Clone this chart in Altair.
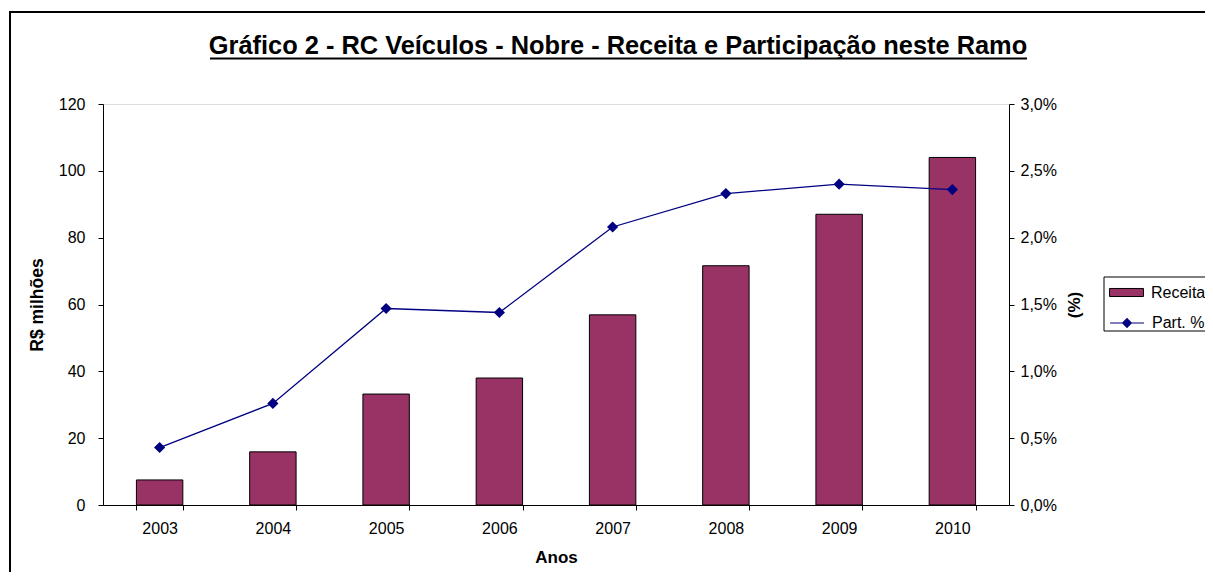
import altair as alt
import pandas as pd

anos = ["2003", "2004", "2005", "2006", "2007", "2008", "2009", "2010"]
receita = [7.5, 15.9, 33.2, 38.0, 56.9, 71.6, 87.0, 104.0]
participacao = [0.0043, 0.0076, 0.0147, 0.0144, 0.0208, 0.0233, 0.0240, 0.0236]
titulo = "Gráfico 2 - RC Veículos - Nobre - Receita e Participação neste Ramo"

FONT = "Liberation Sans"
BAR_COLOR = "#993366"
LINE_COLOR = "#000080"
LF = 16   # tick/legend label font size
TF = 17   # axis title font size

bar_df = pd.DataFrame({"ano": anos, "valor": receita, "serie": "Receita"})
line_df = pd.DataFrame({"ano": anos, "valor": participacao, "serie": "Part. %"})

x_enc = alt.X(
    "ano:N",
    sort=anos,
    scale=alt.Scale(paddingInner=0.59, paddingOuter=0.295),
    axis=alt.Axis(
        title="Anos", labelAngle=0, tickBand="extent", tickSize=5,
        labelPadding=10, titlePadding=13, domainColor="black", tickColor="black",
        labelFont=FONT, labelFontSize=LF, labelColor="black",
        titleFont=FONT, titleFontSize=TF, titleFontWeight="bold", titleColor="black",
    ),
)

leg_common = dict(
    title=None, orient="none", legendX=1001, padding=4,
    symbolSize=676, labelOffset=16,
    labelFont=FONT, labelFontSize=LF, labelColor="black",
)

legend_bar = alt.Legend(
    legendY=171,
    symbolType="M-0.92,-0.31H1.69V0.31H-0.92Z",
    symbolFillColor=BAR_COLOR, symbolStrokeColor="black", symbolStrokeWidth=1,
    symbolOpacity=1,
    **leg_common,
)
legend_line = alt.Legend(
    legendY=201,
    symbolType="M-0.92,0H1.69M0.055,0L0.385,-0.33L0.715,0L0.385,0.33Z",
    symbolFillColor=LINE_COLOR, symbolStrokeColor=LINE_COLOR, symbolStrokeWidth=1.2,
    symbolOpacity=1,
    **leg_common,
)

bars = alt.Chart(bar_df).mark_bar(stroke="black", strokeWidth=1, opacity=1).encode(
    x=x_enc,
    y=alt.Y(
        "valor:Q",
        scale=alt.Scale(domain=[0, 120], nice=False),
        axis=alt.Axis(
            title="R$ milhões", values=[0, 20, 40, 60, 80, 100, 120], grid=False,
            tickSize=5, labelPadding=13, titlePadding=12,
            domainColor="black", tickColor="black",
            labelFont=FONT, labelFontSize=LF, labelColor="black",
            titleFont=FONT, titleFontSize=17.5, titleFontWeight="bold", titleColor="black",
        ),
    ),
    fill=alt.Fill("serie:N", scale=alt.Scale(domain=["Receita"], range=[BAR_COLOR]),
                  legend=legend_bar),
)

line = alt.Chart(line_df).mark_line(
    strokeWidth=1.3,
    point=alt.OverlayMarkDef(shape="diamond", size=70, filled=True, color=LINE_COLOR, opacity=1),
).encode(
    x=alt.X("ano:N", sort=anos),
    y=alt.Y(
        "valor:Q",
        scale=alt.Scale(domain=[0, 0.03], nice=False),
        axis=alt.Axis(
            orient="right", title="(%)", titleAngle=270, titleBaseline="top",
            values=[0, 0.005, 0.01, 0.015, 0.02, 0.025, 0.03],
            labelExpr="replace(format(datum.value, '.1%'), '.', ',')",
            grid=False, tickSize=5, labelPadding=6, titlePadding=10,
            domainColor="black", tickColor="black",
            labelFont=FONT, labelFontSize=LF, labelColor="black",
            titleFont=FONT, titleFontSize=TF, titleFontWeight="bold", titleColor="black",
        ),
    ),
    stroke=alt.Stroke("serie:N", scale=alt.Scale(domain=["Part. %"], range=[LINE_COLOR]),
                      legend=legend_line),
)

deco = alt.Data(values=[{"k": 1}])
title_mark = alt.Chart(deco).mark_text(
    font=FONT, fontSize=25.4, fontWeight="bold", color="black",
    align="center", baseline="alphabetic",
).encode(x=alt.value(515), y=alt.value(-50), text=alt.value(titulo))
underline = alt.Chart(deco).mark_rule(color="black", strokeWidth=2).encode(
    x=alt.value(107), x2=alt.value(924), y=alt.value(-45.5)
)
frame = alt.Chart(deco).mark_rect(fill=None, stroke="black", strokeWidth=2).encode(
    x=alt.value(-93), x2=alt.value(1150), y=alt.value(-92), y2=alt.value(520)
)
legend_box = alt.Chart(deco).mark_rect(fill="white", stroke="black", strokeWidth=1).encode(
    x=alt.value(1001), x2=alt.value(1150), y=alt.value(173), y2=alt.value(227)
)

chart = (
    alt.layer(frame, legend_box, bars, line, title_mark, underline)
    .resolve_scale(y="independent")
    .properties(
        width=906,
        height=401,
        autosize=alt.AutoSizeParams(type="none"),
        padding={"left": 95, "top": 96, "right": 196, "bottom": 67},
    )
    .configure_view(stroke="#808080", strokeWidth=1)
    .configure(background="white")
)

chart.save("out.html", embed_options={"renderer": "svg", "actions": False})
